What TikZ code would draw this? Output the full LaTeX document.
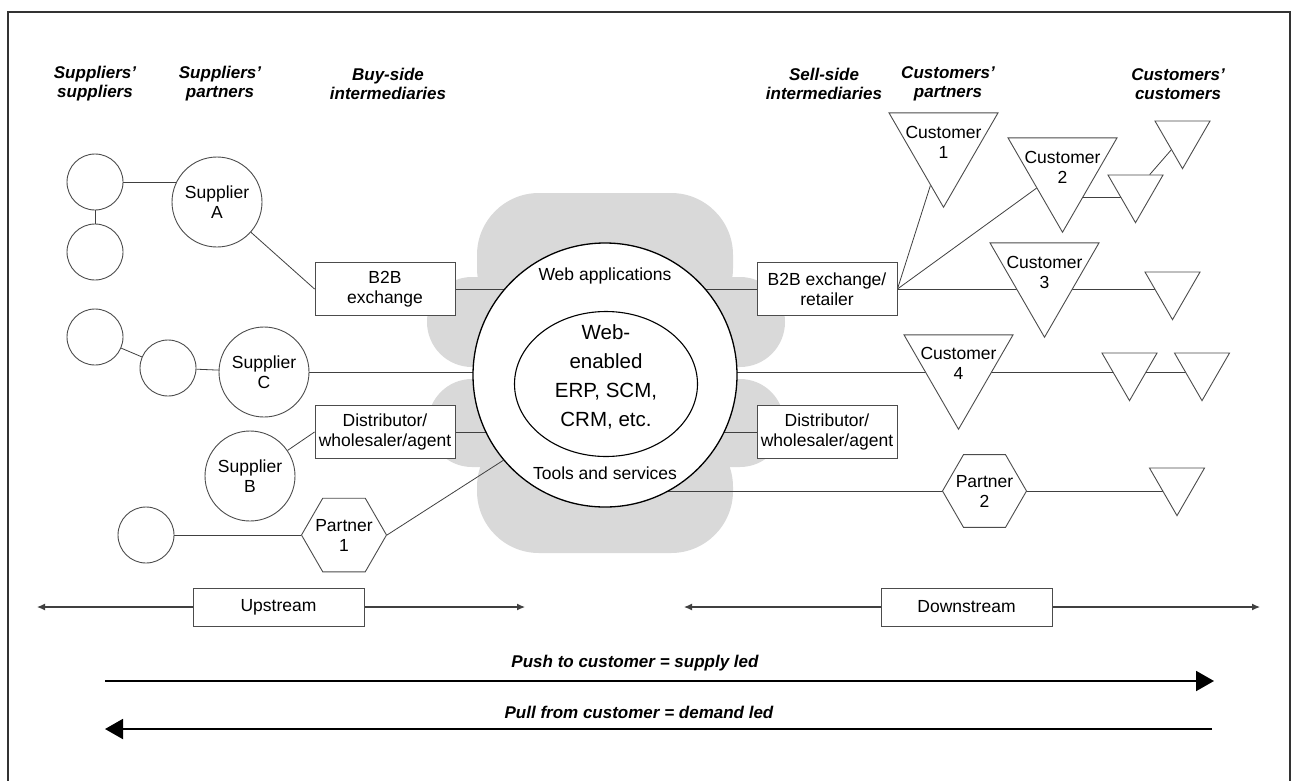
\documentclass[tikz,border=0pt]{standalone}
\usepackage{fontspec}
\setmainfont{Liberation Sans}
\usetikzlibrary{shapes.geometric,arrows.meta}
\pgfdeclarelayer{bg}
\pgfdeclarelayer{lines}
\pgfsetlayers{bg,lines,main}
\begin{document}
\begin{tikzpicture}[x=1pt,y=-1pt,
  every node/.style={font=\fontsize{17.5}{20}\selectfont, text=black},
  hdr/.style={font=\fontsize{17}{19}\selectfont\bfseries\itshape, align=center},
  circ/.style={circle, draw=black!70, line width=0.9pt, fill=white, inner sep=0pt, minimum size=#1, align=center},
  box/.style={rectangle, draw=black!70, line width=0.9pt, fill=white, inner sep=0pt, minimum width=140pt, minimum height=53pt, align=center},
  tri/.style={regular polygon, regular polygon sides=3, shape border rotate=180, draw=black!70, line width=0.9pt, fill=white, inner sep=0pt, minimum size=#1},
  hexa/.style={regular polygon, regular polygon sides=6, draw=black!70, line width=0.9pt, fill=white, inner sep=0pt, minimum size=#1, align=center},
  conn/.style={draw=black!75, line width=0.8pt},
  cloud/.style={fill=black!15},
  smallarrow/.style={draw=black!75, line width=1.2pt, {Latex[length=8pt,width=7pt]}-{Latex[length=8pt,width=7pt]}},
  bigarrow/.style={draw=black, line width=2pt, -{Triangle[length=18pt,width=20pt]}},
]
\useasboundingbox (0,0) rectangle (1293,780);
\begin{pgfonlayer}{bg}
\fill[white] (0,0) rectangle (1293,780);
\end{pgfonlayer}
\draw[line width=2pt, black!80] (8,781) -- (8,12) -- (1290,12) -- (1290,781);

% headers
\node[hdr] (h1) at (95,84) {Suppliers'\\suppliers};
\node[hdr] (h2) at (220,84) {Suppliers'\\partners};
\node[hdr] (h3) at (388,84) {Buy-side\\intermediaries};
\node[hdr] (h4) at (824,84) {Sell-side\\intermediaries};
\node[hdr] (h5) at (948,84) {Customers'\\partners};
\node[hdr] (h6) at (1178,84) {Customers'\\customers};

% cloud
\begin{pgfonlayer}{bg}
\fill[cloud, rounded corners=62pt] (477,193) rectangle (733,330);
\fill[cloud, rounded corners=62pt] (477,425) rectangle (733,553);
\fill[cloud, rounded corners=45pt] (427,277) rectangle (785,367);
\fill[cloud, rounded corners=44pt] (428,379) rectangle (784,467);
\end{pgfonlayer}

% left side
\node[circ=56pt] (ss1) at (95,182) {};
\node[circ=56pt] (ss2) at (95,252) {};
\node[circ=90pt] (supA) at (217,202) {Supplier\\A};
\node[circ=56pt] (ss3) at (95,337) {};
\node[circ=56pt] (ss4) at (168,368) {};
\node[circ=90pt] (supC) at (264,372) {Supplier\\C};
\node[circ=90pt] (supB) at (250,476) {Supplier\\B};
\node[circ=56pt] (ss5) at (146,535) {};
\node[hexa=85pt] (p1) at (344,535) {};
\node[align=center] (p1t) at (344,535) {Partner\\1};
\node[box] (b2bL) at (385,289) {B2B\\exchange};
\node[box] (distL) at (385,432) {Distributor/\\wholesaler/agent};

% centre
\node[circle, draw=black, line width=1.3pt, fill=white, minimum size=264pt, inner sep=0pt] (big) at (605,375) {};
\node[ellipse, draw=black, line width=1.1pt, fill=white, minimum width=183pt, minimum height=145pt, inner sep=0pt] (core) at (606,384) {};
\node[align=center, font=\fontsize{20.5}{29}\selectfont] (coret) at (606,377) {Web-\\enabled\\ERP, SCM,\\CRM, etc.};
\node (webapp) at (605,276) {Web applications};
\node (tools) at (605,473) {Tools and services};

% right side
\node[box] (b2bR) at (827,289) {B2B exchange/\\retailer};
\node[box] (distR) at (827,432) {Distributor/\\wholesaler/agent};
\node[tri=125.9pt] (cust1) at (943.5,144.3) {};
\node[align=center] (cust1t) at (943.5,142) {Customer\\1};
\node[tri=125.9pt] (cust2) at (1062.5,169.3) {};
\node[align=center] (cust2t) at (1062.5,167) {Customer\\2};
\node[tri=125.9pt] (cust3) at (1044.5,274.3) {};
\node[align=center] (cust3t) at (1044.5,272) {Customer\\3};
\node[tri=125.9pt] (cust4) at (958.5,366.3) {};
\node[align=center] (cust4t) at (958.5,363) {Customer\\4};
\node[hexa=84pt] (p2) at (984.5,491) {};
\node[align=center] (p2t) at (984.5,491) {Partner\\2};
\node[tri=63.5pt] (cc1) at (1135.5,190.9) {};
\node[tri=63.5pt] (cc2) at (1182.5,136.9) {};
\node[tri=63.5pt] (cc3) at (1172.5,287.9) {};
\node[tri=63.5pt] (cc4) at (1129.5,368.9) {};
\node[tri=63.5pt] (cc5) at (1202,368.9) {};
\node[tri=63.5pt] (cc6) at (1177,483.9) {};

% bottom
\node[box, minimum width=171pt, minimum height=38pt] (ups) at (278.5,607) {Upstream};
\node[box, minimum width=171pt, minimum height=38pt] (downs) at (966.5,607) {Downstream};
\coordinate (upL) at (37,607);
\coordinate (upR) at (525,607);
\coordinate (dnL) at (684,607);
\coordinate (dnR) at (1260,607);
\node[hdr] (pusht) at (635,663) {Push to customer = supply led};
\node[hdr] (pullt) at (639,712) {Pull from customer = demand led};
\coordinate (pushL) at (105,681);
\coordinate (pushR) at (1214,681);
\coordinate (pullR) at (1212,729);
\coordinate (pullL) at (105,729);

\path (cc1.center) ++(0,6) coordinate (j2);

\begin{pgfonlayer}{lines}
\draw[conn] (ss1) -- (ss2);
\draw[conn] (ss1.center) -- (ss1.center -| supA.center);
\draw[conn] (supA) -- (b2bL.west);
\draw[conn] (b2bL.center) -- (b2bR.center);
\draw[conn] (ss3) -- (ss4);
\draw[conn] (ss4) -- (supC);
\draw[conn] (supC.center) -- (supC.center -| cc5.center);
\draw[conn] (supB) -- (distL.west);
\draw[conn] (distL.center) -- (distR.center);
\draw[conn] (ss5) -- (p1);
\draw[conn] (p1.east) -- (big.220);
\draw[conn] (b2bR.east) -- (cust1);
\draw[conn] (b2bR.east) -- (cust2);
\draw[conn] (b2bR.center) -- (b2bR.center -| cc3.center);
\draw[conn] (cust2.center |- j2) -- (j2);
\draw[conn] (cc1) -- (cc2);
\draw[conn] (big.center |- p2.center) -- (cc6.center |- p2.center);
\draw[smallarrow] (upL) -- (upR);
\draw[smallarrow] (dnL) -- (dnR);
\draw[bigarrow] (pushL) -- (pushR);
\draw[bigarrow] (pullR) -- (pullL);
\end{pgfonlayer}
\end{tikzpicture}
\end{document}
